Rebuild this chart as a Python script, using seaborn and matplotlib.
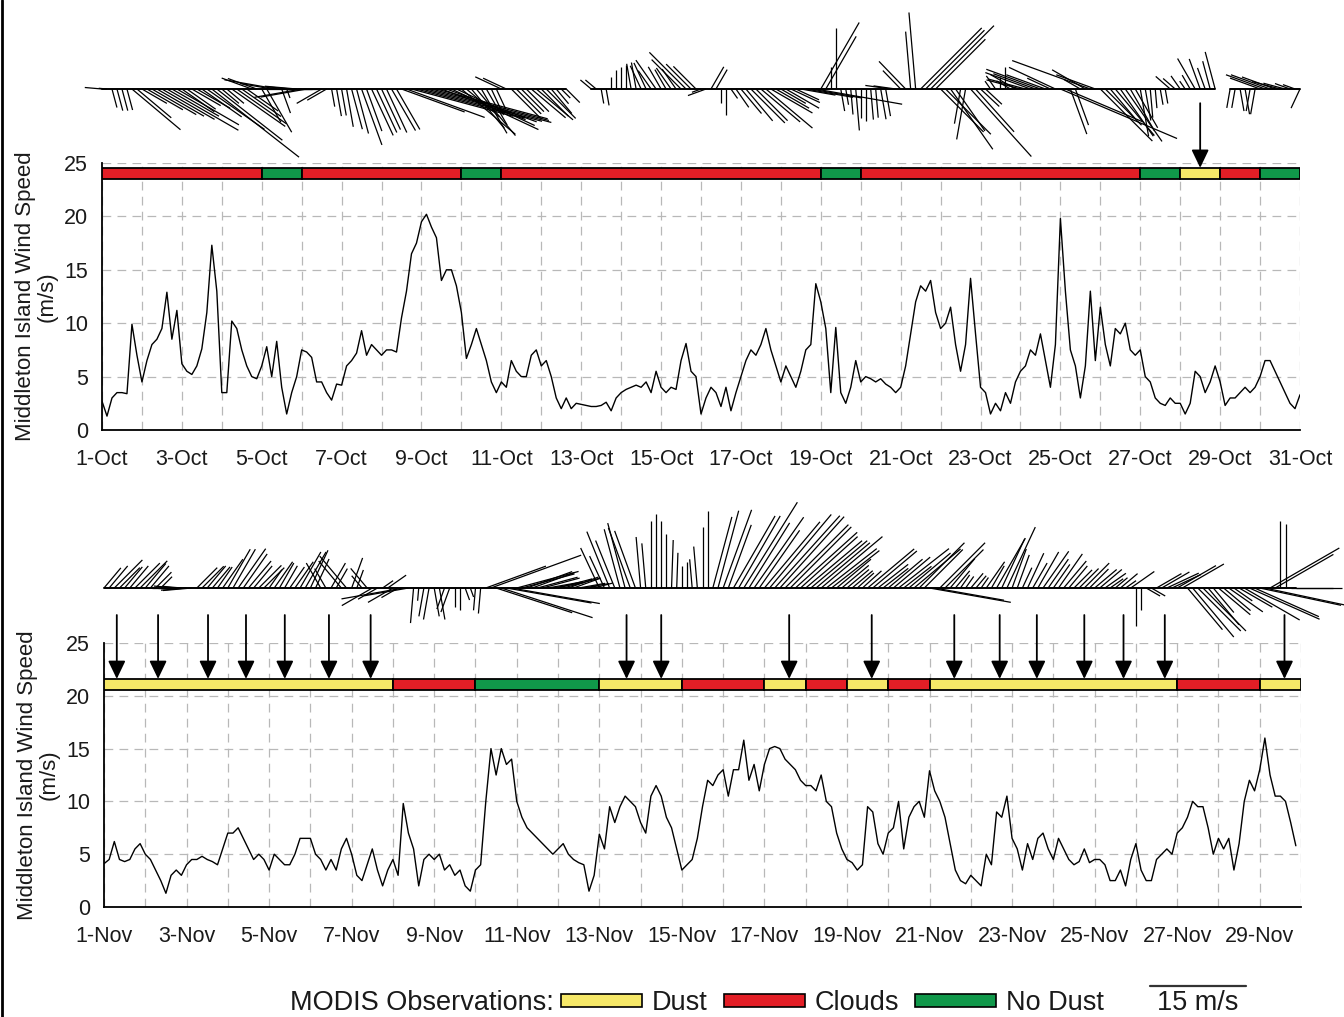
import numpy as np
import pandas as pd
import matplotlib
matplotlib.use("Agg")
import matplotlib.pyplot as plt
import seaborn as sns
from matplotlib.collections import LineCollection
from matplotlib.ticker import MultipleLocator, FuncFormatter
from matplotlib.patches import Patch
from matplotlib.lines import Line2D

# ---------------- data ----------------
# October wind speed (m/s), 3-hourly from 1-Oct 00:00
oct_speed = [
    2.7, 1.3, 3.0, 3.5, 3.5, 3.4, 9.9, 7.0,
    4.5, 6.5, 8.0, 8.5, 9.5, 12.9, 8.5, 11.2,
    6.2, 5.5, 5.2, 6.0, 7.6, 11.0, 17.3, 13.0,
    3.5, 3.5, 10.2, 9.5, 7.5, 6.0, 5.0, 4.8,
    6.0, 7.8, 5.0, 8.3, 4.0, 1.5, 3.5, 5.0,
    7.5, 7.3, 6.8, 4.5, 4.5, 3.5, 2.8, 4.3,
    4.2, 6.0, 6.5, 7.2, 9.3, 7.0, 8.0, 7.5,
    7.0, 7.5, 7.5, 7.3, 10.5, 13.0, 16.5, 17.5,
    19.5, 20.2, 19.0, 18.0, 14.0, 15.0, 15.0, 13.5,
    11.0, 6.7, 8.0, 9.5, 8.0, 6.5, 4.5, 3.5,
    4.5, 4.0, 6.5, 5.5, 5.0, 5.0, 7.0, 7.5,
    6.0, 6.5, 5.0, 3.0, 2.0, 3.0, 2.0, 2.5,
    2.4, 2.3, 2.2, 2.2, 2.3, 2.6, 1.8, 3.0,
    3.5, 3.8, 4.0, 4.2, 4.0, 4.5, 3.5, 5.5,
    4.0, 3.5, 4.0, 3.8, 6.5, 8.1, 5.5, 5.0,
    1.5, 3.0, 4.0, 3.5, 2.2, 4.0, 1.8, 3.5,
    5.0, 6.5, 7.5, 7.0, 8.0, 9.5, 7.5, 6.0,
    4.5, 6.0, 5.0, 4.0, 5.5, 7.5, 8.0, 13.7,
    12.0, 9.5, 3.5, 9.6, 3.5, 2.5, 4.0, 6.5,
    4.5, 5.0, 4.8, 4.5, 4.8, 4.3, 4.0, 3.5,
    4.0, 6.0, 9.0, 12.0, 13.5, 13.0, 14.0, 11.0,
    9.5, 10.0, 11.5, 8.0, 5.5, 8.0, 14.2, 9.0,
    4.0, 3.5, 1.5, 2.5, 1.8, 3.5, 2.5, 4.5,
    5.5, 6.0, 7.5, 7.0, 9.0, 6.5, 4.0, 8.0,
    19.8, 13.0, 7.5, 6.0, 3.0, 6.0, 13.0, 6.5,
    11.5, 8.0, 6.0, 9.5, 9.0, 10.0, 7.5, 7.0,
    7.5, 5.0, 4.5, 3.0, 2.5, 2.3, 3.0, 2.5,
    2.5, 1.5, 2.5, 5.5, 5.0, 3.5, 4.5, 6.0,
    4.5, 2.3, 3.0, 3.0, 3.5, 4.0, 3.5, 4.0,
    5.0, 6.5, 6.5, 5.5, 4.5, 3.5, 2.5, 2.0,
    3.3,
]
# October wind direction of sticks (deg, counter-clockwise from east), 6-hourly
oct_dir = [
    175, -75, -75, -40,   -30, -30, -30, -30,   -35, -30, -35, -38,
    -40, -35, -35, 160,   -60, 170, -70, 175,   -170, 180, -150, -80,
    -80, -75, -70, -65,   -65, -60, -20, -15,   -15, -15, -20, -25,
    -40, -50, -60, -65,   155, -45, -45, -40,   -45, -50, -45, np.nan,
    np.nan, 140, -80, 90,  90, 100, 115, 125,   120, 125, 135, 135,
    -160, 60, -90, -55,   -50, -45, -40, -30,   -30, -25, -10, -10,
    60, 90, -80, -85,     -90, -85, -80, 172,   134, 95, 45, 45,
    -45, -55, -100, -48,  -43, 125, 90, 150,    165, 160, 160, 155,
    -23, -70, 150, 160,   -45, -50, -55, -60,   -80, -85, -80, 139,
    125, 120, 110, 105,   np.nan, -100, -80, -100, 160, 160, 165, 160,
    -115,
]
# November wind speed (m/s), 3-hourly from 1-Nov 00:00
nov_speed = [
    4.1, 4.5, 6.2, 4.5, 4.3, 4.5, 5.5, 6.0,
    5.0, 4.5, 3.5, 2.5, 1.3, 3.0, 3.5, 3.0,
    4.0, 4.5, 4.5, 4.8, 4.5, 4.3, 4.0, 5.5,
    7.0, 7.0, 7.5, 6.5, 5.5, 4.5, 5.0, 4.5,
    3.5, 5.0, 4.5, 4.0, 4.0, 5.0, 6.5, 6.5,
    6.5, 5.0, 4.5, 3.5, 4.5, 3.5, 5.5, 6.5,
    5.0, 3.0, 2.5, 4.0, 5.5, 3.5, 2.0, 3.5,
    4.5, 3.0, 9.8, 7.0, 5.5, 2.0, 4.5, 5.0,
    4.5, 5.0, 3.5, 4.0, 3.0, 3.5, 2.0, 1.5,
    3.5, 4.0, 10.0, 15.0, 12.5, 15.0, 13.5, 14.0,
    10.0, 8.5, 7.5, 7.0, 6.5, 6.0, 5.5, 5.0,
    5.5, 6.0, 5.0, 4.5, 4.2, 4.0, 1.5, 3.0,
    6.9, 5.5, 9.5, 8.0, 9.5, 10.5, 10.0, 9.5,
    8.0, 7.0, 10.5, 11.5, 10.5, 8.5, 7.5, 5.5,
    3.5, 4.0, 4.5, 6.5, 9.5, 12.0, 11.5, 12.5,
    13.0, 10.5, 13.0, 13.0, 15.8, 12.0, 13.5, 11.0,
    13.5, 15.0, 15.2, 15.0, 14.0, 13.5, 13.0, 12.0,
    11.5, 11.5, 11.0, 12.5, 10.0, 9.5, 7.0, 5.5,
    4.5, 4.2, 3.5, 4.0, 9.5, 9.0, 6.0, 5.0,
    7.0, 7.5, 10.0, 5.5, 8.5, 9.5, 10.0, 8.5,
    12.9, 11.0, 10.0, 8.5, 6.0, 3.5, 2.5, 2.2,
    3.0, 2.5, 2.0, 5.0, 4.0, 9.0, 8.5, 10.5,
    6.5, 5.5, 3.5, 6.0, 4.5, 6.5, 7.0, 5.5,
    4.5, 6.5, 5.5, 4.5, 4.0, 4.3, 5.5, 4.2,
    4.5, 4.5, 4.0, 2.5, 2.5, 3.5, 2.0, 4.5,
    6.0, 3.5, 2.5, 2.5, 4.5, 5.0, 5.5, 5.0,
    7.0, 7.5, 8.5, 10.0, 9.5, 9.5, 7.5, 5.0,
    6.5, 5.5, 6.5, 3.5, 6.0, 10.0, 12.0, 11.0,
    13.0, 16.0, 12.5, 10.5, 10.5, 10.0, 8.0, 5.8,
]
# November stick directions, 6-hourly
nov_dir = [
    50, 45, 50, 45,    50, 45, 180, 175,   -175, 45, 50, 55,   60, 55, 50, 45,
    55, 60, 55, 60,    65, 120, 60, 130,   70, 130, -150, 35,  -150, -170, -95, -100,
    -80, -110, -90, -70, -95, 20, -18, -10,  15, 20, 15, 10,   15, 20, 10, 15,
    115, 112, 105, 110, 95, 90, 90, 88,   90, 95, 90, 75,     70, 60, 58, 55,
    50, 48, 45, 42,    40, 40, 38, 40,     40, 42, 40, 38,     40, 38, 40, 45,
    -10, 45, 50, 55,   50, 55, 60, 65,     70, 65, 60, 55,     55, 50, 45, 45,
    40, 35, 40, 35,    -90, -30, 30, 25,   30, -50, -45, -50,  -40, -35, -30, -24,
    -12, 30, 90, 0,
]

# MODIS observation periods (day of month)
oct_obs_start = [1, 5, 6, 10, 11, 19, 20, 27, 28, 29, 30]
oct_obs_end = [5, 6, 10, 11, 19, 20, 27, 28, 29, 30, 31]
oct_obs_type = ["Clouds", "No Dust", "Clouds", "No Dust", "Clouds", "No Dust",
                "Clouds", "No Dust", "Dust", "Clouds", "No Dust"]
nov_obs_start = [1, 8, 10, 13, 15, 17, 18, 19, 20, 21, 27, 29]
nov_obs_end = [8, 10, 13, 15, 17, 18, 19, 20, 21, 27, 29, 30]
nov_obs_type = ["Dust", "Clouds", "No Dust", "Dust", "Clouds", "Dust", "Clouds",
                "Dust", "Clouds", "Dust", "Clouds", "Dust"]
# dust-event arrows (day of month)
oct_arrows = [28.5]
nov_arrows = [1.31, 2.31, 3.52, 4.44, 5.38, 6.45, 7.46, 13.66, 14.5, 17.6, 19.6,
              21.6, 22.7, 23.6, 24.75, 25.7, 26.7, 29.6]

obs_colors = {"Dust": "#f6e868", "Clouds": "#e31e26", "No Dust": "#10984a"}

# ---------------- figure ----------------
sns.set_theme(style="white")
plt.rcParams["font.family"] = ["Liberation Sans", "DejaVu Sans"]
plt.rcParams["text.color"] = "#1a1a1a"

W, H = 1344, 1017
fig = plt.figure(figsize=(W / 100, H / 100), dpi=100)
K = 6.4  # stick length, pixels per m/s


def px_axes(x0, x1, ytop, ybot):
    return fig.add_axes([x0 / W, 1 - ybot / H, (x1 - x0) / W, (ybot - ytop) / H])


def panel(main_px, stick_px, base_px, ndays, month, speed, dirs,
          starts, ends, types, arrows, bar_y, arrow_tail, arrow_tip):
    ax = px_axes(*main_px)
    sax = px_axes(*stick_px)
    speed = np.asarray(speed, float)
    t = 1 + np.arange(len(speed)) / 8.0
    df = pd.DataFrame({"day": t, "speed": speed})
    sns.lineplot(data=df, x="day", y="speed", ax=ax, color="black",
                 linewidth=1.0, estimator=None, zorder=4)

    # status bar
    starts = np.asarray(starts, float)
    ends = np.asarray(ends, float)
    ax.barh(y=bar_y, width=ends - starts, left=starts, height=1.05,
            color=[obs_colors[k] for k in types], edgecolor="black",
            linewidth=1.3, zorder=5)
    for xa in arrows:
        ax.annotate("", xy=(xa, arrow_tip), xytext=(xa, arrow_tail),
                    arrowprops=dict(arrowstyle="-|>,head_length=0.5,head_width=0.24",
                                    color="black", lw=1.3, mutation_scale=22,
                                    shrinkA=0, shrinkB=0),
                    annotation_clip=False, zorder=6)

    ax.set_xlim(1, 1 + ndays)
    ax.set_ylim(0, 25)
    ax.xaxis.set_major_locator(MultipleLocator(1))
    ax.xaxis.set_minor_locator(MultipleLocator(0.5))
    ax.yaxis.set_major_locator(MultipleLocator(5))
    ax.yaxis.set_minor_locator(MultipleLocator(2.5))

    def fmt(v, pos):
        d = int(round(v))
        if abs(v - d) < 1e-6 and d % 2 == 1:
            return f"{d}-{month}"
        return ""
    ax.xaxis.set_major_formatter(FuncFormatter(fmt))
    ax.tick_params(axis="x", which="major", length=9.5, width=1.2, direction="out",
                   labelsize=15.5, pad=4, colors="black", labelcolor="#1a1a1a")
    ax.tick_params(axis="x", which="minor", length=5, width=1.2, direction="out",
                   colors="black")
    ax.tick_params(axis="y", which="major", length=9, width=1.2, direction="out",
                   labelsize=15.5, pad=1, colors="black", labelcolor="#1a1a1a")
    ax.tick_params(axis="y", which="minor", length=5, width=1.2, direction="out",
                   colors="black")
    ax.grid(True, which="major", axis="both", linestyle=(0, (7, 5)),
            color="#b8b8b8", linewidth=0.9)
    for s in ["top", "right"]:
        ax.spines[s].set_visible(False)
    for s in ["left", "bottom"]:
        ax.spines[s].set_color("black")
        ax.spines[s].set_linewidth(1.3)
    ax.set_xlabel("")
    ax.set_ylabel("Middleton Island Wind Speed\n(m/s)", fontsize=16,
                  color="#1a1a1a", linespacing=1.05)
    ax.yaxis.set_label_coords(-0.037, 0.5)

    # stick plot
    x0, x1, ytop, ybot = stick_px
    ppd = (x1 - x0) / ndays
    ang = np.deg2rad(np.repeat(np.asarray(dirs, float), 2)[: len(speed)])
    valid = ~np.isnan(ang)
    dx = speed * np.cos(ang) * K / ppd
    dy = speed * np.sin(ang)
    segs = np.stack([np.column_stack([t, np.zeros_like(t)]),
                     np.column_stack([t + dx, dy])], axis=1)[valid]
    lc = LineCollection(segs, colors="black", linewidths=0.9, clip_on=False)
    sax.add_collection(lc)
    base = np.where(valid, 0.0, np.nan)
    sax.plot(t, base, color="black", lw=1.4, clip_on=False)
    sax.set_xlim(1, 1 + ndays)
    sax.set_ylim(-(ybot - base_px) / K, (base_px - ytop) / K)
    sax.axis("off")
    return ax


panel((102, 1300, 163, 430), (102, 1300, 0, 163), 89, 30, "Oct",
      oct_speed, oct_dir, oct_obs_start, oct_obs_end, oct_obs_type,
      oct_arrows, 24.0, 30.6, 24.55)
panel((104, 1301, 643, 907), (104, 1301, 490, 643), 588, 29, "Nov",
      nov_speed, nov_dir, nov_obs_start, nov_obs_end, nov_obs_type,
      nov_arrows, 21.05, 27.65, 21.6)

# legend
ly = 1 - 1003 / H
fig.text(290 / W, ly, "MODIS Observations:", fontsize=19.5, va="center", ha="left")
handles = [Patch(facecolor=obs_colors[k], edgecolor="black", linewidth=1.2, label=k)
           for k in ["Dust", "Clouds", "No Dust"]]
fig.legend(handles=handles, ncol=3, loc="center left", bbox_to_anchor=(561 / W, ly),
           frameon=False, fontsize=19.5, handlelength=3.0, handleheight=0.35,
           handletextpad=0.35, columnspacing=0.6, borderpad=0, borderaxespad=0)
fig.add_artist(Line2D([1150 / W, (1150 + 15 * K) / W], [1 - 986 / H] * 2,
                      color="#333333", lw=1.6))
fig.text((1150 + 7.5 * K) / W, ly, "15 m/s", fontsize=19.5, va="center", ha="center")
fig.add_artist(Line2D([0.0012, 0.0012], [0, 1], color="black", lw=2.0))

fig.savefig("out.png", dpi=100)
